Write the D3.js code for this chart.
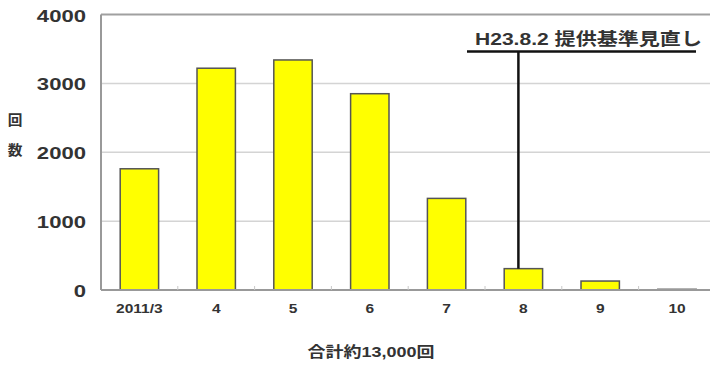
<!DOCTYPE html>
<html>
<head>
<meta charset="utf-8">
<script src="https://cdn.jsdelivr.net/npm/d3@7"></script>
<style>
  html, body { margin: 0; padding: 0; background: #fff; }
  svg { display: block; }
  text { font-family: "Liberation Sans", Arial, "Noto Sans CJK JP", sans-serif; fill: #333; }
</style>
</head>
<body>
<svg id="chart" width="710" height="365"></svg>
<script>
const categories = ["2011/3", "4", "5", "6", "7", "8", "9", "10"];
const values = [1760, 3220, 3340, 2850, 1330, 310, 130, 10];
const yTicks = [0, 1000, 2000, 3000, 4000];
const yTitle = ["回", "数"];
const xTitle = "合計約13,000回";
const annotationText = "H23.8.2 提供基準見直し";
const annotationCategory = "8";

(function () {
const svg = d3.select("#chart");
const pLeft = 101, pTop = 14.5, pBottom = 290, step = 76.8;
const pRight = pLeft + categories.length * step;

const x = d3.scaleBand().domain(categories).range([pLeft, pRight])
  .paddingInner(0.5).paddingOuter(0.25);
const y = d3.scaleLinear().domain([0, 4000]).range([pBottom, pTop]);

function stretchedText(g, str, px, py, sx, anchor, size, weight) {
  return g.append("text")
    .attr("transform", `translate(${px},${py}) scale(${sx},1)`)
    .attr("text-anchor", anchor)
    .attr("dominant-baseline", "central")
    .style("font-size", size + "px")
    .style("font-weight", weight)
    .text(str);
}

// gridlines
svg.append("g").selectAll("line").data(yTicks.filter(d => d > 0 && d < 4000))
  .join("line")
  .attr("x1", pLeft).attr("x2", pRight)
  .attr("y1", d => y(d)).attr("y2", d => y(d))
  .attr("stroke", "#d4d4d4").attr("stroke-width", 1.5);

// top border
svg.append("line").attr("x1", pLeft).attr("x2", pRight)
  .attr("y1", y(4000)).attr("y2", y(4000))
  .attr("stroke", "#a0a0a0").attr("stroke-width", 2);

// bars
svg.append("g").selectAll("rect").data(values)
  .join("rect")
  .attr("x", (d, i) => x(categories[i]))
  .attr("width", x.bandwidth())
  .attr("y", d => y(d))
  .attr("height", d => y(0) - y(d))
  .attr("fill", "#ffff00")
  .attr("stroke", "#555")
  .attr("stroke-width", 1.5);

// axis lines
svg.append("line").attr("x1", pLeft).attr("x2", pLeft)
  .attr("y1", y(4000)).attr("y2", y(0))
  .attr("stroke", "#999").attr("stroke-width", 2);
svg.append("line").attr("x1", pLeft).attr("x2", pRight)
  .attr("y1", y(0)).attr("y2", y(0))
  .attr("stroke", "#999").attr("stroke-width", 2);

// small category separator ticks
svg.append("g").selectAll("line").data(d3.range(1, categories.length))
  .join("line")
  .attr("x1", i => pLeft + i * step).attr("x2", i => pLeft + i * step)
  .attr("y1", y(0) - 4).attr("y2", y(0))
  .attr("stroke", "#c8c8c8").attr("stroke-width", 1);

// y tick labels
const yl = svg.append("g");
yTicks.forEach(t => stretchedText(yl, String(t), 86, y(t) + 1, 1.3, "end", 17, "bold"));

// x tick labels
const xl = svg.append("g");
categories.forEach(c => stretchedText(xl, c, x(c) + x.bandwidth() / 2, 308, 1.15, "middle", 13.5, "bold"));

// y title (vertical)
const yt = svg.append("g");
yTitle.forEach((ch, i) => stretchedText(yt, ch, 15, 120 + i * 30, 1.05, "middle", 14, 600));

// x title
stretchedText(svg, xTitle, 371, 352, 1.2, "middle", 15, 600);

// annotation
const ax = x(annotationCategory) + x.bandwidth() / 2 - 5;
const aIdx = categories.indexOf(annotationCategory);
const ay = 51.5;
svg.append("line").attr("x1", 467).attr("x2", 696)
  .attr("y1", ay).attr("y2", ay)
  .attr("stroke", "#111").attr("stroke-width", 2.5);
svg.append("line").attr("x1", ax).attr("x2", ax)
  .attr("y1", ay).attr("y2", y(values[aIdx]))
  .attr("stroke", "#111").attr("stroke-width", 2.5);
stretchedText(svg, annotationText, 475, 39.5, 1.24, "start", 17, "bold");
})();
</script>
</body>
</html>
